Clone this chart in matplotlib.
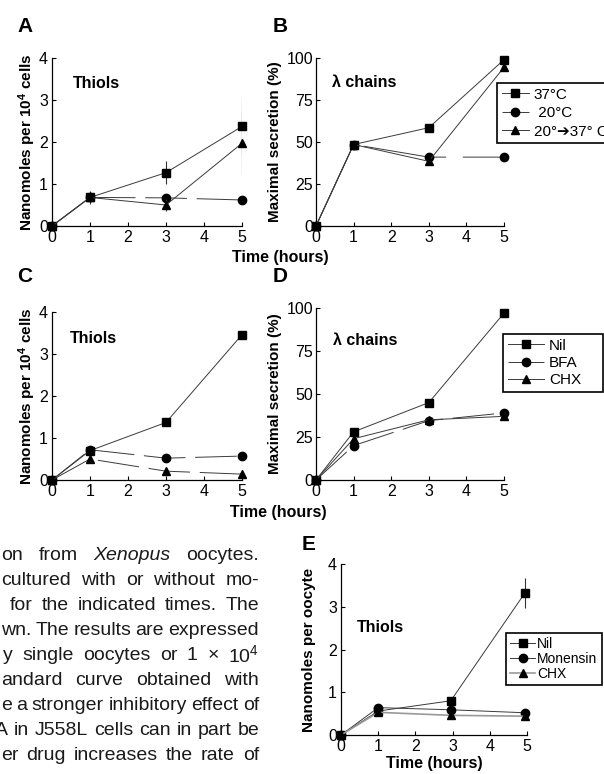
import matplotlib
matplotlib.use('Agg')
import matplotlib.pyplot as plt

plt.rcParams['font.family'] = ['Liberation Sans', 'DejaVu Sans']
plt.rcParams['mathtext.fontset'] = 'custom'
plt.rcParams['mathtext.rm'] = 'Liberation Sans'
plt.rcParams['mathtext.bf'] = 'Liberation Sans:bold'
plt.rcParams['mathtext.it'] = 'Liberation Sans:italic'
plt.rcParams['lines.scale_dashes'] = False

W, H = 604, 774

# ---- data ----
hours = [0, 1, 3, 5]
hours_e = [0, 1, 2.95, 4.95]

# A: thiols, temperature
a_37 = [0, 0.68, 1.27, 2.37]
a_37_err = [0, 0.15, 0.28, 0.68]
a_20 = [0, 0.68, 0.67, 0.62]
a_shift = [0, 0.68, 0.50, 1.97]
a_shift_err = [0, 0, 0.15, 0.72]

# B: lambda chains, temperature
b_37 = [0, 48.5, 58.5, 99]
b_20 = [0, 48.5, 41, 41]
b_shift = [0, 48.5, 38.5, 94.5]

# C: thiols, drugs
c_nil = [0, 0.70, 1.37, 3.46]
c_nil_err = [0, 0.12, 0.08, 0]
c_bfa = [0, 0.72, 0.52, 0.57]
c_chx = [0, 0.50, 0.21, 0.14]

# D: lambda chains, drugs
d_nil = [0, 28, 45, 97]
d_bfa = [0, 20, 34.5, 39]
d_chx = [0, 24, 35, 37]

# E: thiols from oocytes
e_nil = [0, 0.56, 0.80, 3.33]
e_nil_err = [0, 0, 0, 0.35]
e_mon = [0, 0.64, 0.59, 0.52]
e_chx = [0, 0.53, 0.46, 0.44]

temp_labels = ['37°C', ' 20°C', '20°➔37° C']
drug_labels = ['Nil', 'BFA', 'CHX']
oocyte_labels = ['Nil', 'Monensin', 'CHX']

legend_text = [
    [('on', 'n'), ('from', 'n'), ('Xenopus', 'i'), ('oocytes.', 'n')],
    [('cultured', 'n'), ('with', 'n'), ('or', 'n'), ('without', 'n'), ('mo-', 'n')],
    [('for', 'n'), ('the', 'n'), ('indicated', 'n'), ('times.', 'n'), ('The', 'n')],
    [('wn.', 'n'), ('The', 'n'), ('results', 'n'), ('are', 'n'), ('expressed', 'n')],
    [('y', 'n'), ('single', 'n'), ('oocytes', 'n'), ('or', 'n'), ('1', 'n'), ('×', 'n'), ('10$^{4}$', 'n')],
    [('andard', 'n'), ('curve', 'n'), ('obtained', 'n'), ('with', 'n')],
    [('e', 'n'), ('a', 'n'), ('stronger', 'n'), ('inhibitory', 'n'), ('effect', 'n'), ('of', 'n')],
    [('A', 'n'), ('in', 'n'), ('J558L', 'n'), ('cells', 'n'), ('can', 'n'), ('in', 'n'), ('part', 'n'), ('be', 'n')],
    [('er', 'n'), ('drug', 'n'), ('increases', 'n'), ('the', 'n'), ('rate', 'n'), ('of', 'n')],
]
line_starts = [1, 1, 10, 1, 3, 1, 1, -5, 1]

LINE = '#3a3a3a'
DASH = (0, (30, 7))


def make_axes(fig, x0, x5, y0, ytop):
    # pixel positions of the data limits -> figure fraction
    ax = fig.add_axes([x0 / W, 1 - y0 / H, (x5 - x0) / W, (y0 - ytop) / H])
    for s in ['top', 'right']:
        ax.spines[s].set_visible(False)
    for s in ['left', 'bottom']:
        ax.spines[s].set_linewidth(0.9)
    ax.set_xlim(0, 5)
    ax.set_xticks([0, 1, 2, 3, 4, 5])
    ax.tick_params(direction='in', length=3, width=0.8, labelsize=11.5, pad=3)
    ax.patch.set_alpha(0)
    return ax


def series(ax, x, y, marker, ls='-', color=LINE, lw=0.7, err=None, label=None):
    if err is not None:
        ax.errorbar(x, y, yerr=err, fmt='none', ecolor='#333333', elinewidth=0.8, capsize=0)
    line, = ax.plot(x, y, marker=marker, color=color, lw=lw, linestyle=ls,
                    mfc='black', mec='black', ms=6, clip_on=False, label=label)
    return line


def legend(ax, handles, labels, x, y, hl, spacing, size=10.5, width=None, pad=0.3):
    kw = {}
    if width is not None:
        anchor = (x / W, 1 - y / H - 0.2, width / W, 0.2)
        kw['mode'] = 'expand'
    else:
        anchor = (x / W, 1 - y / H)
    leg = ax.legend(handles, labels, loc='upper left', bbox_to_anchor=anchor,
                    bbox_transform=ax.figure.transFigure, fontsize=size, frameon=True,
                    fancybox=False, edgecolor='black', framealpha=1, borderpad=0.3,
                    labelspacing=spacing, handlelength=hl, handletextpad=pad, borderaxespad=0, **kw)
    leg.get_frame().set_linewidth(1.2)
    return leg


fig = plt.figure(figsize=(W / 100, H / 100), dpi=100)

# ---- A ----
ax = make_axes(fig, 52, 242, 226, 58)
ax.set_ylim(0, 4)
ax.set_yticks([0, 1, 2, 3, 4])
series(ax, hours, a_37, 's', err=a_37_err)
series(ax, hours, a_20, 'o', ls=DASH)
series(ax, hours, a_shift, '^', err=a_shift_err)
ax.text(0.11, 0.85, 'Thiols', transform=ax.transAxes, fontsize=11.5, weight='bold', va='center')
ax.set_ylabel('Nanomoles per 10$^{\\mathbf{4}}$ cells', fontsize=11, weight='bold', va='center')
ax.yaxis.set_label_coords(-0.132, 0.5)

# ---- B ----
ax = make_axes(fig, 316, 504, 226, 58)
ax.set_ylim(0, 100)
ax.set_yticks([0, 25, 50, 75, 100])
ax.tick_params(axis='y', pad=2)
h1 = series(ax, hours, b_37, 's')
h2 = series(ax, hours, b_20, 'o', ls=(0, (60, 12)))
h3 = series(ax, hours, b_shift, '^')
ax.text(0.085, 0.857, 'λ chains', transform=ax.transAxes, fontsize=11.5, weight='bold', va='center')
ax.set_ylabel('Maximal secretion (%)', fontsize=11, weight='bold', va='center')
ax.yaxis.set_label_coords(-0.218, 0.5)
legend(ax, [h1, h2, h3], temp_labels, 497, 83, 1.8, 0.3, size=11)

# ---- C ----
ax = make_axes(fig, 52, 242, 480, 312)
ax.set_ylim(0, 4)
ax.set_yticks([0, 1, 2, 3, 4])
series(ax, hours, c_nil, 's', err=c_nil_err)
series(ax, hours, c_bfa, 'o', ls=DASH)
series(ax, hours, c_chx, '^', ls=DASH)
ax.text(0.095, 0.84, 'Thiols', transform=ax.transAxes, fontsize=11.5, weight='bold', va='center')
ax.set_ylabel('Nanomoles per 10$^{\\mathbf{4}}$ cells', fontsize=11, weight='bold', va='center')
ax.yaxis.set_label_coords(-0.132, 0.5)

# ---- D ----
ax = make_axes(fig, 316, 504, 480, 308)
ax.set_ylim(0, 100)
ax.set_yticks([0, 25, 50, 75, 100])
ax.tick_params(axis='y', pad=2)
h1 = series(ax, hours, d_nil, 's')
h2 = series(ax, hours, d_bfa, 'o', ls=DASH)
h3 = series(ax, hours, d_chx, '^')
ax.text(0.09, 0.81, 'λ chains', transform=ax.transAxes, fontsize=11.5, weight='bold', va='center')
ax.set_ylabel('Maximal secretion (%)', fontsize=11, weight='bold', va='center')
ax.yaxis.set_label_coords(-0.218, 0.5)
legend(ax, [h1, h2, h3], drug_labels, 503, 334, 2.4, 0.22, size=11, width=100)

# ---- E ----
ax = make_axes(fig, 341, 527, 735, 564)
ax.set_ylim(0, 4)
ax.set_yticks([0, 1, 2, 3, 4])
h1 = series(ax, hours_e, e_nil, 's', err=e_nil_err)
h2 = series(ax, hours_e, e_mon, 'o')
h3 = series(ax, hours_e, e_chx, '^', color='#999999', lw=1.2)
ax.text(0.086, 0.63, 'Thiols', transform=ax.transAxes, fontsize=11.5, weight='bold', va='center')
ax.set_ylabel('Nanomoles per oocyte', fontsize=11, weight='bold', va='center')
ax.yaxis.set_label_coords(-0.172, 0.5)
ax.set_xlabel('Time (hours)', fontsize=11.5, weight='bold', labelpad=1)
legend(ax, [h1, h2, h3], oocyte_labels, 506, 633, 1.8, 0.05, size=10, width=96, pad=0.15)

# shared x labels and panel letters
fig.text(280 / W, 1 - 258 / H, 'Time (hours)', fontsize=11.5, weight='bold', ha='center', va='center')
fig.text(278 / W, 1 - 512 / H, 'Time (hours)', fontsize=11.5, weight='bold', ha='center', va='center')
for letter, px, py in [('A', 17, 17), ('B', 273, 17), ('C', 17, 267), ('D', 273, 267), ('E', 302, 535)]:
    fig.text(px / W, 1 - py / H, letter, fontsize=15, weight='bold', ha='left', va='top')

# caption fragment at the lower left, justified between the two edges
renderer = fig.canvas.get_renderer()
right = 259
for i, words in enumerate(legend_text):
    y = 1 - (555 + 25.1 * i) / H
    texts = [fig.text(0, y, w, fontsize=14, style='italic' if s == 'i' else 'normal',
                      color='#1a1a1a', va='center', ha='left') for w, s in words]
    widths = [t.get_window_extent(renderer).width for t in texts]
    left = line_starts[i]
    gap = (right - left - sum(widths)) / (len(words) - 1)
    x = left
    for t, w in zip(texts, widths):
        t.set_x(x / W)
        x += w + gap

fig.savefig('out.png', dpi=100)
